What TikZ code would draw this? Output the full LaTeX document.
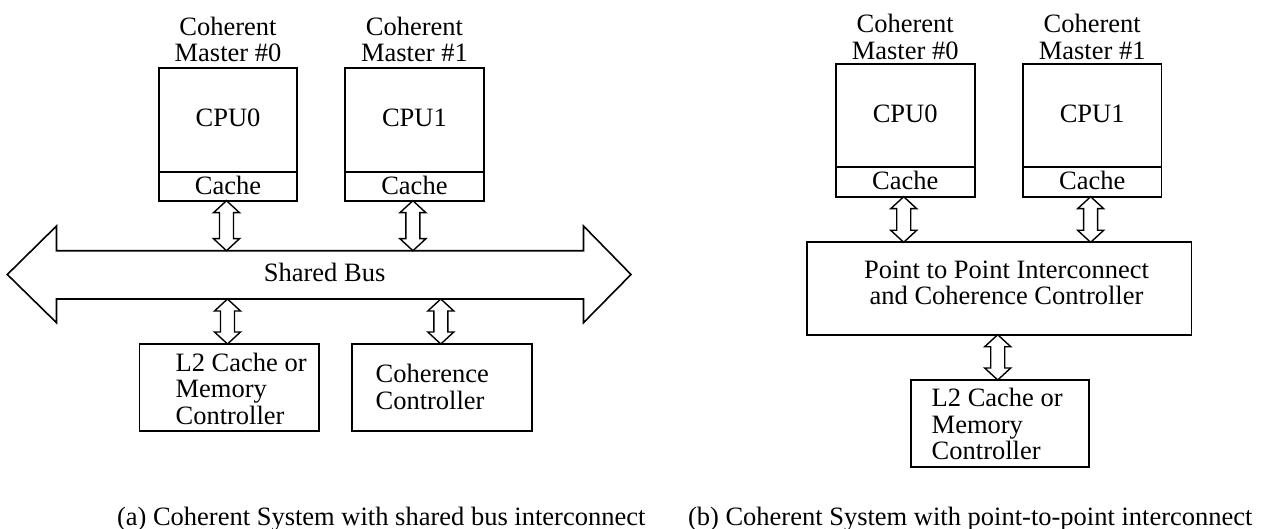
\documentclass[tikz,border=0pt]{standalone}
\usepackage{fontspec}
\setmainfont{Liberation Serif}
\usetikzlibrary{calc}
\tikzset{
  box/.style={draw, line width=1.8pt, inner sep=0pt, outer sep=0pt, anchor=north west},
  txt/.style={font=\fontsize{26.5}{26.5}\selectfont, inner sep=0pt, outer sep=0pt},
  barr/.style={draw, line width=1.4pt, line join=miter, fill=white},
  busline/.style={draw, line width=1.6pt, line join=miter}
}
\newcommand\blockarr[3]{%
  \draw[barr] let \p1=(#2), \p2=(#3), \p3=(#1) in
    (\x3-1.5,\y1) -- (\x3+11.5,\y1-12) -- (\x3+5.5,\y1-12) -- (\x3+5.5,\y2+12)
    -- (\x3+11.5,\y2+12) -- (\x3-1.5,\y2) -- (\x3-14.5,\y2+12) -- (\x3-8.5,\y2+12)
    -- (\x3-8.5,\y1-12) -- (\x3-14.5,\y1-12) -- cycle;}
\begin{document}
\begin{tikzpicture}[x=1pt,y=1pt]
\fill[white] (0,0) rectangle (1265,-529);
\useasboundingbox (0,0) rectangle (1265,-529);

% ---------------- (a) shared bus ----------------
\node[txt, align=center, anchor=north] (lab0a) at (228,-16.9) {Coherent\\Master \#0};
\node[txt, align=center, anchor=north] (lab1a) at (414.4,-16.9) {Coherent\\Master \#1};

\node[box, minimum width=138.6pt, minimum height=104.6pt] (cpu0a) at (158.7,-67.7) {};
\node[box, minimum width=138.6pt, minimum height=28.4pt] (cache0a) at (158.7,-172.3) {};
\node[box, minimum width=139.4pt, minimum height=104.6pt] (cpu1a) at (344.7,-67.7) {};
\node[box, minimum width=139.4pt, minimum height=28.4pt] (cache1a) at (344.7,-172.3) {};
\node[txt, anchor=base] (cpu0at) at (228,-126.5) {CPU0};
\node[txt, anchor=base] (cpu1at) at (414.4,-126.5) {CPU1};
\node[txt, anchor=base] (c0at) at (228,-195) {Cache};
\node[txt, anchor=base] (c1at) at (414.4,-195) {Cache};

\draw[busline] (7.3,-274.5) -- (56.5,-226) -- (56.5,-250.7) -- (583.5,-250.7)
  -- (583.5,-226) -- (631,-274.5) -- (583.5,-322.7) -- (583.5,-299)
  -- (56.5,-299) -- (56.5,-322.7) -- cycle;
\coordinate (bustop) at (0,-250.7);
\coordinate (busbot) at (0,-299);
\node[txt, anchor=base] (busa) at (324.6,-281) {Shared Bus};

\node[box, minimum width=179.2pt, minimum height=86.7pt] (l2a) at (139.4,-344) {};
\node[box, minimum width=180pt, minimum height=87pt] (cca) at (352.3,-344) {};
\node[txt, align=left, anchor=north west] (l2at) at (175.6,-352.9) {L2 Cache or\\Memory\\Controller};
\node[txt, align=left, anchor=north west] (ccat) at (375.6,-364.6) {Coherence\\Controller};

\blockarr{cache0a.south}{cache0a.south}{bustop}
\blockarr{cache1a.south}{cache1a.south}{bustop}
\blockarr{l2a.north}{busbot}{l2a.north}
\blockarr{cca.north}{busbot}{cca.north}

\node[txt, anchor=base west] (capa) at (117,-525) {(a) Coherent System with shared bus interconnect};

% ---------------- (b) point to point ----------------
\node[txt, align=center, anchor=north] (lab0b) at (905.2,-14.2) {Coherent\\Master \#0};
\node[txt, align=center, anchor=north] (lab1b) at (1092.2,-14.2) {Coherent\\Master \#1};

\node[box, minimum width=139pt, minimum height=102.7pt] (cpu0b) at (835.7,-64) {};
\node[box, minimum width=139pt, minimum height=30pt] (cache0b) at (835.7,-166.7) {};
\node[box, minimum width=138.5pt, minimum height=102.7pt] (cpu1b) at (1022.9,-64) {};
\node[box, minimum width=138.5pt, minimum height=30pt] (cache1b) at (1022.9,-166.7) {};
\node[txt, anchor=base] (cpu0bt) at (905.2,-122.7) {CPU0};
\node[txt, anchor=base] (cpu1bt) at (1092.2,-122.7) {CPU1};
\node[txt, anchor=base] (c0bt) at (905.2,-189.3) {Cache};
\node[txt, anchor=base] (c1bt) at (1092.2,-189.3) {Cache};

\node[box, minimum width=384.4pt, minimum height=92.4pt] (p2p) at (807,-242.3) {};
\node[txt, align=center, anchor=north] (p2pt) at (1006.5,-260.8) {Point to Point Interconnect\\and Coherence Controller};

\node[box, minimum width=178.2pt, minimum height=87.3pt] (l2b) at (910.7,-380) {};
\node[txt, align=left, anchor=north west] (l2bt) at (931.7,-388.6) {L2 Cache or\\Memory\\Controller};

\blockarr{cache0b.south}{cache0b.south}{p2p.north}
\blockarr{cache1b.south}{cache1b.south}{p2p.north}
\blockarr{p2p.south}{p2p.south}{l2b.north}

\node[txt, anchor=base west] (capb) at (688,-525) {(b) Coherent System with point-to-point interconnect};
\end{tikzpicture}
\end{document}
